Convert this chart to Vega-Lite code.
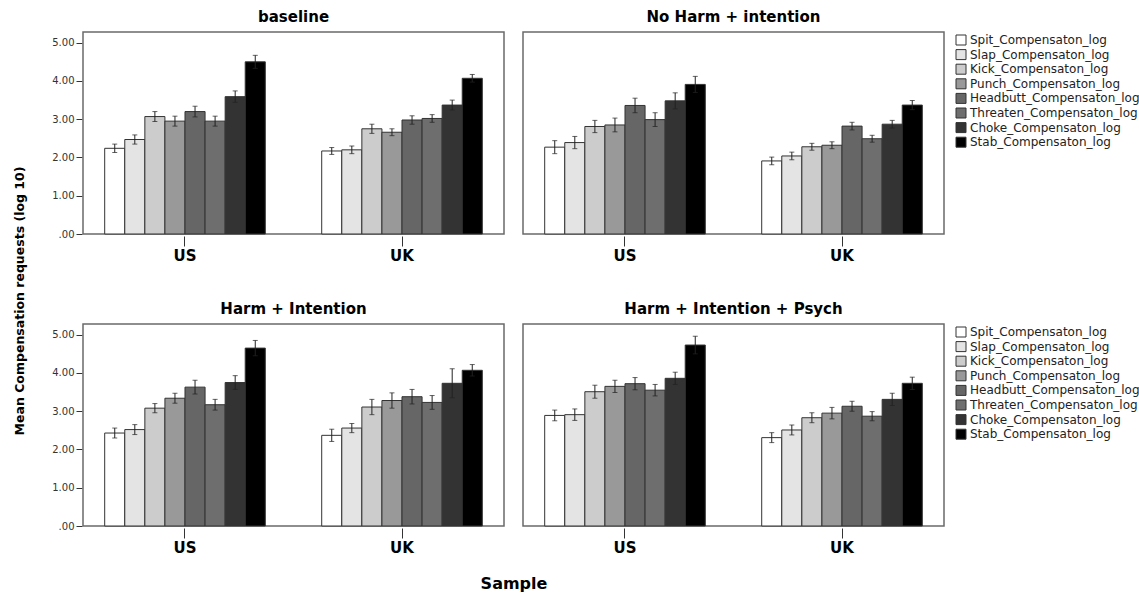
{
  "$schema": "https://vega.github.io/schema/vega-lite/v6.json",
  "background": "white",
  "padding": {"left": 14, "top": 10, "right": 5, "bottom": 5},
  "title": {"text": "Mean Compensation requests (log 10)", "orient": "left", "anchor": "middle", "fontSize": 12.5, "fontWeight": "bold", "font": "DejaVu Sans", "color": "#000", "offset": 25},
  "datasets": {
    "top": [
      {"c": "baseline", "s": "US", "v": "Spit_Compensaton_log", "m": 2.24, "lo": 2.13, "hi": 2.35},
      {"c": "baseline", "s": "US", "v": "Slap_Compensaton_log", "m": 2.47, "lo": 2.35, "hi": 2.59},
      {"c": "baseline", "s": "US", "v": "Kick_Compensaton_log", "m": 3.07, "lo": 2.94, "hi": 3.20},
      {"c": "baseline", "s": "US", "v": "Punch_Compensaton_log", "m": 2.95, "lo": 2.82, "hi": 3.08},
      {"c": "baseline", "s": "US", "v": "Headbutt_Compensaton_log", "m": 3.20, "lo": 3.06, "hi": 3.34},
      {"c": "baseline", "s": "US", "v": "Threaten_Compensaton_log", "m": 2.95, "lo": 2.82, "hi": 3.08},
      {"c": "baseline", "s": "US", "v": "Choke_Compensaton_log", "m": 3.59, "lo": 3.44, "hi": 3.74},
      {"c": "baseline", "s": "US", "v": "Stab_Compensaton_log", "m": 4.50, "lo": 4.33, "hi": 4.67},
      {"c": "baseline", "s": "UK", "v": "Spit_Compensaton_log", "m": 2.17, "lo": 2.08, "hi": 2.26},
      {"c": "baseline", "s": "UK", "v": "Slap_Compensaton_log", "m": 2.20, "lo": 2.10, "hi": 2.30},
      {"c": "baseline", "s": "UK", "v": "Kick_Compensaton_log", "m": 2.75, "lo": 2.63, "hi": 2.87},
      {"c": "baseline", "s": "UK", "v": "Punch_Compensaton_log", "m": 2.66, "lo": 2.57, "hi": 2.75},
      {"c": "baseline", "s": "UK", "v": "Headbutt_Compensaton_log", "m": 2.98, "lo": 2.87, "hi": 3.09},
      {"c": "baseline", "s": "UK", "v": "Threaten_Compensaton_log", "m": 3.02, "lo": 2.92, "hi": 3.12},
      {"c": "baseline", "s": "UK", "v": "Choke_Compensaton_log", "m": 3.37, "lo": 3.24, "hi": 3.50},
      {"c": "baseline", "s": "UK", "v": "Stab_Compensaton_log", "m": 4.07, "lo": 3.97, "hi": 4.17},
      {"c": "No Harm + intention", "s": "US", "v": "Spit_Compensaton_log", "m": 2.27, "lo": 2.10, "hi": 2.44},
      {"c": "No Harm + intention", "s": "US", "v": "Slap_Compensaton_log", "m": 2.39, "lo": 2.23, "hi": 2.55},
      {"c": "No Harm + intention", "s": "US", "v": "Kick_Compensaton_log", "m": 2.81, "lo": 2.65, "hi": 2.97},
      {"c": "No Harm + intention", "s": "US", "v": "Punch_Compensaton_log", "m": 2.85, "lo": 2.67, "hi": 3.03},
      {"c": "No Harm + intention", "s": "US", "v": "Headbutt_Compensaton_log", "m": 3.36, "lo": 3.17, "hi": 3.55},
      {"c": "No Harm + intention", "s": "US", "v": "Threaten_Compensaton_log", "m": 2.99, "lo": 2.81, "hi": 3.17},
      {"c": "No Harm + intention", "s": "US", "v": "Choke_Compensaton_log", "m": 3.48, "lo": 3.27, "hi": 3.69},
      {"c": "No Harm + intention", "s": "US", "v": "Stab_Compensaton_log", "m": 3.91, "lo": 3.70, "hi": 4.12},
      {"c": "No Harm + intention", "s": "UK", "v": "Spit_Compensaton_log", "m": 1.91, "lo": 1.81, "hi": 2.01},
      {"c": "No Harm + intention", "s": "UK", "v": "Slap_Compensaton_log", "m": 2.04, "lo": 1.94, "hi": 2.14},
      {"c": "No Harm + intention", "s": "UK", "v": "Kick_Compensaton_log", "m": 2.28, "lo": 2.19, "hi": 2.37},
      {"c": "No Harm + intention", "s": "UK", "v": "Punch_Compensaton_log", "m": 2.32, "lo": 2.23, "hi": 2.41},
      {"c": "No Harm + intention", "s": "UK", "v": "Headbutt_Compensaton_log", "m": 2.82, "lo": 2.72, "hi": 2.92},
      {"c": "No Harm + intention", "s": "UK", "v": "Threaten_Compensaton_log", "m": 2.49, "lo": 2.40, "hi": 2.58},
      {"c": "No Harm + intention", "s": "UK", "v": "Choke_Compensaton_log", "m": 2.87, "lo": 2.77, "hi": 2.97},
      {"c": "No Harm + intention", "s": "UK", "v": "Stab_Compensaton_log", "m": 3.37, "lo": 3.25, "hi": 3.49}
    ],
    "bottom": [
      {"c": "Harm + Intention", "s": "US", "v": "Spit_Compensaton_log", "m": 2.43, "lo": 2.30, "hi": 2.56},
      {"c": "Harm + Intention", "s": "US", "v": "Slap_Compensaton_log", "m": 2.52, "lo": 2.39, "hi": 2.65},
      {"c": "Harm + Intention", "s": "US", "v": "Kick_Compensaton_log", "m": 3.08, "lo": 2.96, "hi": 3.20},
      {"c": "Harm + Intention", "s": "US", "v": "Punch_Compensaton_log", "m": 3.34, "lo": 3.21, "hi": 3.47},
      {"c": "Harm + Intention", "s": "US", "v": "Headbutt_Compensaton_log", "m": 3.63, "lo": 3.45, "hi": 3.81},
      {"c": "Harm + Intention", "s": "US", "v": "Threaten_Compensaton_log", "m": 3.17, "lo": 3.03, "hi": 3.31},
      {"c": "Harm + Intention", "s": "US", "v": "Choke_Compensaton_log", "m": 3.75, "lo": 3.57, "hi": 3.93},
      {"c": "Harm + Intention", "s": "US", "v": "Stab_Compensaton_log", "m": 4.65, "lo": 4.45, "hi": 4.85},
      {"c": "Harm + Intention", "s": "UK", "v": "Spit_Compensaton_log", "m": 2.37, "lo": 2.21, "hi": 2.53},
      {"c": "Harm + Intention", "s": "UK", "v": "Slap_Compensaton_log", "m": 2.56, "lo": 2.44, "hi": 2.68},
      {"c": "Harm + Intention", "s": "UK", "v": "Kick_Compensaton_log", "m": 3.11, "lo": 2.91, "hi": 3.31},
      {"c": "Harm + Intention", "s": "UK", "v": "Punch_Compensaton_log", "m": 3.28, "lo": 3.08, "hi": 3.48},
      {"c": "Harm + Intention", "s": "UK", "v": "Headbutt_Compensaton_log", "m": 3.38, "lo": 3.19, "hi": 3.57},
      {"c": "Harm + Intention", "s": "UK", "v": "Threaten_Compensaton_log", "m": 3.23, "lo": 3.05, "hi": 3.41},
      {"c": "Harm + Intention", "s": "UK", "v": "Choke_Compensaton_log", "m": 3.73, "lo": 3.35, "hi": 4.11},
      {"c": "Harm + Intention", "s": "UK", "v": "Stab_Compensaton_log", "m": 4.07, "lo": 3.92, "hi": 4.22},
      {"c": "Harm + Intention + Psych", "s": "US", "v": "Spit_Compensaton_log", "m": 2.89, "lo": 2.75, "hi": 3.03},
      {"c": "Harm + Intention + Psych", "s": "US", "v": "Slap_Compensaton_log", "m": 2.91, "lo": 2.76, "hi": 3.06},
      {"c": "Harm + Intention + Psych", "s": "US", "v": "Kick_Compensaton_log", "m": 3.51, "lo": 3.34, "hi": 3.68},
      {"c": "Harm + Intention + Psych", "s": "US", "v": "Punch_Compensaton_log", "m": 3.65, "lo": 3.49, "hi": 3.81},
      {"c": "Harm + Intention + Psych", "s": "US", "v": "Headbutt_Compensaton_log", "m": 3.72, "lo": 3.56, "hi": 3.88},
      {"c": "Harm + Intention + Psych", "s": "US", "v": "Threaten_Compensaton_log", "m": 3.55, "lo": 3.40, "hi": 3.70},
      {"c": "Harm + Intention + Psych", "s": "US", "v": "Choke_Compensaton_log", "m": 3.86, "lo": 3.70, "hi": 4.02},
      {"c": "Harm + Intention + Psych", "s": "US", "v": "Stab_Compensaton_log", "m": 4.73, "lo": 4.50, "hi": 4.96},
      {"c": "Harm + Intention + Psych", "s": "UK", "v": "Spit_Compensaton_log", "m": 2.31, "lo": 2.18, "hi": 2.44},
      {"c": "Harm + Intention + Psych", "s": "UK", "v": "Slap_Compensaton_log", "m": 2.51, "lo": 2.38, "hi": 2.64},
      {"c": "Harm + Intention + Psych", "s": "UK", "v": "Kick_Compensaton_log", "m": 2.83, "lo": 2.70, "hi": 2.96},
      {"c": "Harm + Intention + Psych", "s": "UK", "v": "Punch_Compensaton_log", "m": 2.95, "lo": 2.80, "hi": 3.10},
      {"c": "Harm + Intention + Psych", "s": "UK", "v": "Headbutt_Compensaton_log", "m": 3.13, "lo": 3.00, "hi": 3.26},
      {"c": "Harm + Intention + Psych", "s": "UK", "v": "Threaten_Compensaton_log", "m": 2.87, "lo": 2.75, "hi": 2.99},
      {"c": "Harm + Intention + Psych", "s": "UK", "v": "Choke_Compensaton_log", "m": 3.31, "lo": 3.15, "hi": 3.47},
      {"c": "Harm + Intention + Psych", "s": "UK", "v": "Stab_Compensaton_log", "m": 3.73, "lo": 3.57, "hi": 3.89}
    ]
  },
  "resolve": {"legend": {"fill": "independent"}},
  "spacing": 39,
  "vconcat": [
    {
      "data": {"name": "top"},
      "spacing": 17,
      "facet": {"column": {"field": "c", "type": "nominal", "sort": ["baseline", "No Harm + intention"], "header": {"title": null, "labelFontSize": 15, "labelFontWeight": "bold", "labelFont": "DejaVu Sans", "labelColor": "#000", "labelPadding": 6}}},
      "spec": {
        "width": 421,
        "height": 202,
        "encoding": {
          "x": {"field": "s", "type": "nominal", "sort": ["US", "UK"], "scale": {"paddingInner": 0.26, "paddingOuter": 0.1}, "axis": {"title": null, "labelAngle": 0, "labelFontSize": 15, "labelFontWeight": "bold", "labelFont": "DejaVu Sans", "labelColor": "#000", "tickSize": 10, "tickColor": "#333", "domain": false, "labelPadding": 2}},
          "xOffset": {"field": "v", "type": "nominal", "sort": ["Spit_Compensaton_log", "Slap_Compensaton_log", "Kick_Compensaton_log", "Punch_Compensaton_log", "Headbutt_Compensaton_log", "Threaten_Compensaton_log", "Choke_Compensaton_log", "Stab_Compensaton_log"], "scale": {"paddingInner": 0, "paddingOuter": 0}}
        },
        "layer": [
          {
            "mark": {"type": "bar", "stroke": "#333", "strokeWidth": 1},
            "encoding": {
              "y": {"field": "m", "type": "quantitative", "scale": {"domain": [0, 5.28], "nice": false, "zero": true}, "axis": {"title": null, "values": [0, 1, 2, 3, 4, 5], "labelExpr": "datum.value == 0 ? '.00' : format(datum.value, '.2f')", "labelFontSize": 10, "labelFont": "DejaVu Sans", "labelColor": "#333", "tickSize": 6, "tickColor": "#333", "domain": false, "grid": false, "labelPadding": 2}},
              "fill": {"field": "v", "type": "nominal", "scale": {"domain": ["Spit_Compensaton_log", "Slap_Compensaton_log", "Kick_Compensaton_log", "Punch_Compensaton_log", "Headbutt_Compensaton_log", "Threaten_Compensaton_log", "Choke_Compensaton_log", "Stab_Compensaton_log"], "range": ["#ffffff", "#e4e4e4", "#cccccc", "#999999", "#666666", "#6e6e6e", "#333333", "#000000"]}, "legend": {"title": null}}
            }
          },
          {
            "mark": {"type": "rule", "color": "#222", "strokeWidth": 1},
            "encoding": {"y": {"field": "lo", "type": "quantitative"}, "y2": {"field": "hi"}}
          },
          {
            "mark": {"type": "tick", "orient": "horizontal", "size": 5, "thickness": 1, "color": "#222"},
            "encoding": {"y": {"field": "lo", "type": "quantitative"}}
          },
          {
            "mark": {"type": "tick", "orient": "horizontal", "size": 5, "thickness": 1, "color": "#222"},
            "encoding": {"y": {"field": "hi", "type": "quantitative"}}
          }
        ]
      }
    },
    {
      "data": {"name": "bottom"},
      "spacing": 17,
      "facet": {"column": {"field": "c", "type": "nominal", "title": "Sample", "sort": ["Harm + Intention", "Harm + Intention + Psych"], "header": {"titleOrient": "bottom", "labelOrient": "top", "titleFontSize": 16, "titleFontWeight": "bold", "titleFont": "DejaVu Sans", "titleColor": "#000", "titlePadding": 11, "labelFontSize": 15, "labelFontWeight": "bold", "labelFont": "DejaVu Sans", "labelColor": "#000", "labelPadding": 6}}},
      "spec": {
        "width": 421,
        "height": 202,
        "encoding": {
          "x": {"field": "s", "type": "nominal", "sort": ["US", "UK"], "scale": {"paddingInner": 0.26, "paddingOuter": 0.1}, "axis": {"title": null, "labelAngle": 0, "labelFontSize": 15, "labelFontWeight": "bold", "labelFont": "DejaVu Sans", "labelColor": "#000", "tickSize": 10, "tickColor": "#333", "domain": false, "labelPadding": 2}},
          "xOffset": {"field": "v", "type": "nominal", "sort": ["Spit_Compensaton_log", "Slap_Compensaton_log", "Kick_Compensaton_log", "Punch_Compensaton_log", "Headbutt_Compensaton_log", "Threaten_Compensaton_log", "Choke_Compensaton_log", "Stab_Compensaton_log"], "scale": {"paddingInner": 0, "paddingOuter": 0}}
        },
        "layer": [
          {
            "mark": {"type": "bar", "stroke": "#333", "strokeWidth": 1},
            "encoding": {
              "y": {"field": "m", "type": "quantitative", "scale": {"domain": [0, 5.28], "nice": false, "zero": true}, "axis": {"title": null, "values": [0, 1, 2, 3, 4, 5], "labelExpr": "datum.value == 0 ? '.00' : format(datum.value, '.2f')", "labelFontSize": 10, "labelFont": "DejaVu Sans", "labelColor": "#333", "tickSize": 6, "tickColor": "#333", "domain": false, "grid": false, "labelPadding": 2}},
              "fill": {"field": "v", "type": "nominal", "scale": {"domain": ["Spit_Compensaton_log", "Slap_Compensaton_log", "Kick_Compensaton_log", "Punch_Compensaton_log", "Headbutt_Compensaton_log", "Threaten_Compensaton_log", "Choke_Compensaton_log", "Stab_Compensaton_log"], "range": ["#ffffff", "#e4e4e4", "#cccccc", "#999999", "#666666", "#6e6e6e", "#333333", "#000000"]}, "legend": {"title": null}}
            }
          },
          {
            "mark": {"type": "rule", "color": "#222", "strokeWidth": 1},
            "encoding": {"y": {"field": "lo", "type": "quantitative"}, "y2": {"field": "hi"}}
          },
          {
            "mark": {"type": "tick", "orient": "horizontal", "size": 5, "thickness": 1, "color": "#222"},
            "encoding": {"y": {"field": "lo", "type": "quantitative"}}
          },
          {
            "mark": {"type": "tick", "orient": "horizontal", "size": 5, "thickness": 1, "color": "#222"},
            "encoding": {"y": {"field": "hi", "type": "quantitative"}}
          }
        ]
      }
    }
  ],
  "config": {
    "view": {"stroke": "#6a6a6a", "strokeWidth": 1.5},
    "legend": {"symbolType": "square", "symbolSize": 100, "symbolStrokeColor": "#333", "symbolStrokeWidth": 1, "labelFontSize": 12, "labelFont": "DejaVu Sans", "labelColor": "#222", "labelLimit": 300, "rowPadding": 0.6, "offset": 8, "padding": 2, "labelOffset": 3}
  }
}
